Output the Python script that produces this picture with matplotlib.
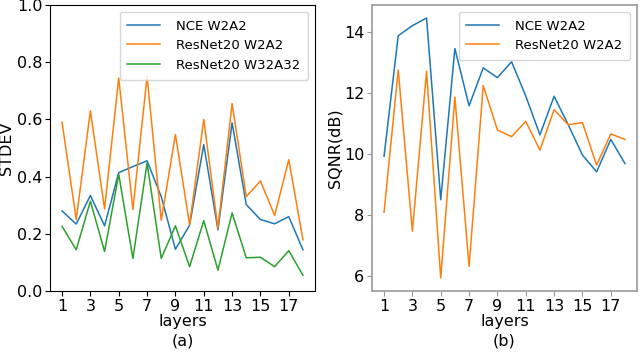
import matplotlib
matplotlib.use("Agg")
import matplotlib.pyplot as plt

layers = list(range(1, 19))
xticks = [1, 3, 5, 7, 9, 11, 13, 15, 17]

stdev_nce_w2a2 = [0.28, 0.234, 0.334, 0.228, 0.414, 0.435, 0.455, 0.33, 0.146, 0.23,
                  0.512, 0.214, 0.588, 0.302, 0.25, 0.235, 0.26, 0.144]
stdev_res_w2a2 = [0.59, 0.25, 0.63, 0.287, 0.745, 0.285, 0.75, 0.247, 0.547, 0.232,
                  0.6, 0.22, 0.655, 0.33, 0.385, 0.264, 0.459, 0.179]
stdev_res_w32a32 = [0.226, 0.144, 0.314, 0.138, 0.408, 0.114, 0.447, 0.114, 0.228, 0.085,
                    0.246, 0.073, 0.273, 0.116, 0.118, 0.085, 0.141, 0.055]

sqnr_nce_w2a2 = [9.93, 13.87, 14.2, 14.45, 8.51, 13.45, 11.58, 12.82, 12.5, 13.02,
                 11.9, 10.63, 11.89, 10.96, 9.97, 9.42, 10.48, 9.69]
sqnr_res_w2a2 = [8.1, 12.75, 7.48, 12.71, 5.95, 11.86, 6.33, 12.24, 10.79, 10.57,
                 11.07, 10.13, 11.45, 10.96, 11.03, 9.64, 10.66, 10.48]

fig = plt.figure(figsize=(6.4, 3.52), dpi=100)
ax1 = fig.add_axes([50/640, 61/352, 265/640, 286/352])
ax2 = fig.add_axes([372/640, 61/352, 265/640, 286/352])

lw = 1.1
fs = 11.5
ax1.plot(layers, stdev_nce_w2a2, color="#1f77b4", lw=lw, label="NCE W2A2")
ax1.plot(layers, stdev_res_w2a2, color="#ff7f0e", lw=lw, label="ResNet20 W2A2")
ax1.plot(layers, stdev_res_w32a32, color="#2ca02c", lw=lw, label="ResNet20 W32A32")
ax1.set_ylim(0, 1.0)
ax1.set_xticks(xticks)
ax1.set_ylabel("STDEV", fontsize=fs)
ax1.set_xlabel("layers\n(a)", fontsize=fs, linespacing=1.4)
ax1.tick_params(labelsize=fs, pad=2)
ax1.legend(loc="upper right", fontsize=9.5, handlelength=2.5, borderpad=0.6,
           labelspacing=0.5, handletextpad=1.2)
ax1.yaxis.set_label_coords(-0.134, 0.5)
ax1.xaxis.set_label_coords(0.5, -0.08)

ax2.plot(layers, sqnr_nce_w2a2, color="#1f77b4", lw=lw, label="NCE W2A2")
ax2.plot(layers, sqnr_res_w2a2, color="#ff7f0e", lw=lw, label="ResNet20 W2A2")
ax2.set_yticks([6, 8, 10, 12, 14])
ax2.set_xticks(xticks)
ax2.set_ylabel("SQNR(dB)", fontsize=fs)
ax2.set_xlabel("layers\n(b)", fontsize=fs, linespacing=1.4)
ax2.tick_params(labelsize=fs, color="#999999", pad=2)
for s in ax2.spines.values():
    s.set_color("#999999")
    s.set_linewidth(1.2)
ax2.legend(loc="upper right", fontsize=9.5, handlelength=2.5, borderpad=0.6,
           labelspacing=0.5, handletextpad=1.2)
ax2.yaxis.set_label_coords(-0.113, 0.5)
ax2.xaxis.set_label_coords(0.5, -0.08)

fig.savefig("out.png", dpi=100)
